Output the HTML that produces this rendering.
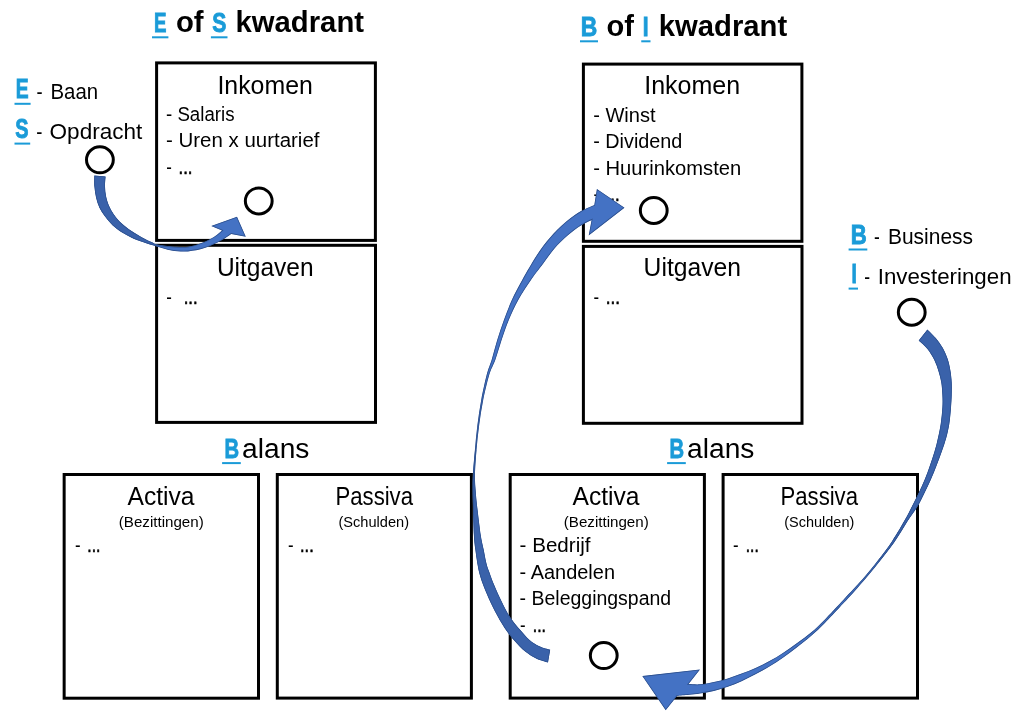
<!DOCTYPE html>
<html lang="nl">
<head>
<meta charset="utf-8">
<title>E of S kwadrant / B of I kwadrant</title>
<style>
html,body{margin:0;padding:0;background:#fff;}
body{width:1024px;height:721px;overflow:hidden;}
svg{display:block;will-change:transform;}
svg text{font-family:"Liberation Sans", sans-serif;}
</style>
</head>
<body>
<svg width="1024" height="721" viewBox="0 0 1024 721">
<rect width="1024" height="721" fill="#fff"/>
<rect x="156.60" y="62.90" width="218.80" height="177.50" fill="#fff" stroke="#000" stroke-width="3.0"/>
<rect x="156.60" y="245.30" width="218.90" height="177.10" fill="#fff" stroke="#000" stroke-width="3.0"/>
<rect x="583.40" y="64.10" width="218.50" height="177.20" fill="#fff" stroke="#000" stroke-width="3.0"/>
<rect x="583.40" y="246.40" width="218.60" height="176.90" fill="#fff" stroke="#000" stroke-width="3.0"/>
<rect x="64.15" y="474.50" width="194.35" height="223.70" fill="#fff" stroke="#000" stroke-width="3.0"/>
<rect x="277.30" y="474.50" width="194.10" height="223.60" fill="#fff" stroke="#000" stroke-width="3.0"/>
<rect x="510.20" y="474.50" width="194.20" height="223.60" fill="#fff" stroke="#000" stroke-width="3.0"/>
<rect x="723.10" y="474.50" width="194.40" height="223.60" fill="#fff" stroke="#000" stroke-width="3.0"/>
<text><tspan x="154.05" y="31.85" font-size="26.74" font-weight="bold" fill="#1A9BD8" stroke="#1A9BD8" stroke-width="0.9" textLength="12.50" lengthAdjust="spacingAndGlyphs">E</tspan> <tspan x="175.90" y="32.30" font-size="29.0" font-weight="bold" textLength="27.64" lengthAdjust="spacingAndGlyphs">of</tspan> <tspan x="212.15" y="31.85" font-size="26.74" font-weight="bold" fill="#1A9BD8" stroke="#1A9BD8" stroke-width="0.9" textLength="14.10" lengthAdjust="spacingAndGlyphs">S</tspan> <tspan x="235.60" y="32.30" font-size="29.0" font-weight="bold" textLength="128.40" lengthAdjust="spacingAndGlyphs">kwadrant</tspan></text>
<rect x="152.00" y="36.30" width="16.40" height="2" fill="#1A9BD8"/>
<rect x="210.90" y="36.30" width="16.60" height="2" fill="#1A9BD8"/>
<text><tspan x="580.75" y="35.80" font-size="26.74" font-weight="bold" fill="#1A9BD8" stroke="#1A9BD8" stroke-width="0.9" textLength="16.50" lengthAdjust="spacingAndGlyphs">B</tspan> <tspan x="606.50" y="36.25" font-size="29.0" font-weight="bold" textLength="27.44" lengthAdjust="spacingAndGlyphs">of</tspan> <tspan x="642.75" y="35.80" font-size="26.74" font-weight="bold" fill="#1A9BD8" stroke="#1A9BD8" stroke-width="0.9" textLength="5.80" lengthAdjust="spacingAndGlyphs">I</tspan> <tspan x="658.80" y="36.25" font-size="29.0" font-weight="bold" textLength="128.40" lengthAdjust="spacingAndGlyphs">kwadrant</tspan></text>
<rect x="580.00" y="40.30" width="18.00" height="2" fill="#1A9BD8"/>
<rect x="641.25" y="40.30" width="9.25" height="2" fill="#1A9BD8"/>
<text><tspan x="15.85" y="98.25" font-size="26.74" font-weight="bold" fill="#1A9BD8" stroke="#1A9BD8" stroke-width="0.9" textLength="12.90" lengthAdjust="spacingAndGlyphs">E</tspan> <tspan x="36.50" y="98.70" font-size="21.9" textLength="6.10" lengthAdjust="spacingAndGlyphs">-</tspan> <tspan x="50.50" y="98.70" font-size="21.9" textLength="47.61" lengthAdjust="spacingAndGlyphs">Baan</tspan></text>
<rect x="14.50" y="102.80" width="16.10" height="2" fill="#1A9BD8"/>
<text><tspan x="15.35" y="138.05" font-size="26.74" font-weight="bold" fill="#1A9BD8" stroke="#1A9BD8" stroke-width="0.9" textLength="13.30" lengthAdjust="spacingAndGlyphs">S</tspan> <tspan x="36.25" y="138.50" font-size="21.9" textLength="6.15" lengthAdjust="spacingAndGlyphs">-</tspan> <tspan x="49.60" y="138.50" font-size="21.9" textLength="92.71" lengthAdjust="spacingAndGlyphs">Opdracht</tspan></text>
<rect x="14.50" y="142.60" width="15.70" height="2" fill="#1A9BD8"/>
<text><tspan x="850.75" y="243.85" font-size="26.74" font-weight="bold" fill="#1A9BD8" stroke="#1A9BD8" stroke-width="0.9" textLength="16.00" lengthAdjust="spacingAndGlyphs">B</tspan> <tspan x="874.10" y="244.30" font-size="21.9" textLength="5.80" lengthAdjust="spacingAndGlyphs">-</tspan> <tspan x="888.00" y="244.30" font-size="21.9" textLength="84.99" lengthAdjust="spacingAndGlyphs">Business</tspan></text>
<rect x="848.60" y="248.50" width="18.70" height="2" fill="#1A9BD8"/>
<text><tspan x="851.55" y="283.35" font-size="26.74" font-weight="bold" fill="#1A9BD8" stroke="#1A9BD8" stroke-width="0.9" textLength="5.40" lengthAdjust="spacingAndGlyphs">I</tspan> <tspan x="864.25" y="283.80" font-size="21.9" textLength="5.85" lengthAdjust="spacingAndGlyphs">-</tspan> <tspan x="877.70" y="283.80" font-size="21.9" textLength="133.90" lengthAdjust="spacingAndGlyphs">Investeringen</tspan></text>
<rect x="848.60" y="287.60" width="9.40" height="2" fill="#1A9BD8"/>
<text><tspan x="217.40" y="93.50" font-size="25.2" textLength="95.41" lengthAdjust="spacingAndGlyphs">Inkomen</tspan></text>
<text><tspan x="166.00" y="121.00" font-size="19.4" textLength="68.49" lengthAdjust="spacingAndGlyphs">- Salaris</tspan></text>
<text><tspan x="166.00" y="147.00" font-size="19.4" textLength="153.45" lengthAdjust="spacingAndGlyphs">- Uren x uurtarief</tspan></text>
<text><tspan x="166.20" y="173.80" font-size="19.4" textLength="5.60" lengthAdjust="spacingAndGlyphs">-</tspan> <tspan x="178.50" y="173.50" font-size="19.4" stroke="#000" stroke-width="0.6" textLength="14.01" lengthAdjust="spacingAndGlyphs">...</tspan></text>
<text><tspan x="216.90" y="275.60" font-size="25.2" textLength="96.70" lengthAdjust="spacingAndGlyphs">Uitgaven</tspan></text>
<text><tspan x="166.30" y="303.80" font-size="19.4" textLength="5.60" lengthAdjust="spacingAndGlyphs">-</tspan> <tspan x="183.70" y="303.50" font-size="19.4" stroke="#000" stroke-width="0.6" textLength="14.01" lengthAdjust="spacingAndGlyphs">...</tspan></text>
<text><tspan x="644.20" y="94.30" font-size="25.2" textLength="95.91" lengthAdjust="spacingAndGlyphs">Inkomen</tspan></text>
<text><tspan x="593.20" y="122.00" font-size="19.4" textLength="62.40" lengthAdjust="spacingAndGlyphs">- Winst</tspan></text>
<text><tspan x="593.20" y="148.10" font-size="19.4" textLength="89.20" lengthAdjust="spacingAndGlyphs">- Dividend</tspan></text>
<text><tspan x="593.20" y="175.00" font-size="19.4" textLength="148.00" lengthAdjust="spacingAndGlyphs">- Huurinkomsten</tspan></text>
<text><tspan x="593.40" y="201.00" font-size="19.4" textLength="5.60" lengthAdjust="spacingAndGlyphs">-</tspan> <tspan x="605.70" y="200.70" font-size="19.4" stroke="#000" stroke-width="0.6" textLength="14.01" lengthAdjust="spacingAndGlyphs">...</tspan></text>
<text><tspan x="643.60" y="276.00" font-size="25.2" textLength="97.39" lengthAdjust="spacingAndGlyphs">Uitgaven</tspan></text>
<text><tspan x="593.40" y="304.40" font-size="19.4" textLength="5.60" lengthAdjust="spacingAndGlyphs">-</tspan> <tspan x="605.70" y="304.10" font-size="19.4" stroke="#000" stroke-width="0.6" textLength="14.31" lengthAdjust="spacingAndGlyphs">...</tspan></text>
<text><tspan x="224.45" y="457.85" font-size="26.74" font-weight="bold" fill="#1A9BD8" stroke="#1A9BD8" stroke-width="0.9" textLength="14.60" lengthAdjust="spacingAndGlyphs">B</tspan><tspan x="242.10" y="458.30" font-size="27.0" textLength="67.29" lengthAdjust="spacingAndGlyphs">alans</tspan></text>
<rect x="222.10" y="462.10" width="18.70" height="2" fill="#1A9BD8"/>
<text><tspan x="669.45" y="457.85" font-size="26.74" font-weight="bold" fill="#1A9BD8" stroke="#1A9BD8" stroke-width="0.9" textLength="14.60" lengthAdjust="spacingAndGlyphs">B</tspan><tspan x="687.10" y="458.30" font-size="27.0" textLength="67.29" lengthAdjust="spacingAndGlyphs">alans</tspan></text>
<rect x="667.10" y="462.10" width="18.70" height="2" fill="#1A9BD8"/>
<text><tspan x="127.50" y="504.50" font-size="25.2" textLength="66.98" lengthAdjust="spacingAndGlyphs">Activa</tspan></text>
<text><tspan x="118.75" y="527.00" font-size="14.6" textLength="85.00" lengthAdjust="spacingAndGlyphs">(Bezittingen)</tspan></text>
<text><tspan x="75.00" y="552.20" font-size="19.4" textLength="5.60" lengthAdjust="spacingAndGlyphs">-</tspan> <tspan x="87.30" y="551.90" font-size="19.4" stroke="#000" stroke-width="0.6" textLength="13.16" lengthAdjust="spacingAndGlyphs">...</tspan></text>
<text><tspan x="335.50" y="504.50" font-size="25.2" textLength="77.49" lengthAdjust="spacingAndGlyphs">Passiva</tspan></text>
<text><tspan x="338.50" y="527.00" font-size="14.6" textLength="70.50" lengthAdjust="spacingAndGlyphs">(Schulden)</tspan></text>
<text><tspan x="288.00" y="552.20" font-size="19.4" textLength="5.60" lengthAdjust="spacingAndGlyphs">-</tspan> <tspan x="300.05" y="551.90" font-size="19.4" stroke="#000" stroke-width="0.6" textLength="13.66" lengthAdjust="spacingAndGlyphs">...</tspan></text>
<text><tspan x="572.50" y="504.50" font-size="25.2" textLength="66.98" lengthAdjust="spacingAndGlyphs">Activa</tspan></text>
<text><tspan x="563.75" y="527.00" font-size="14.6" textLength="85.00" lengthAdjust="spacingAndGlyphs">(Bezittingen)</tspan></text>
<text><tspan x="519.60" y="552.00" font-size="19.4" textLength="70.95" lengthAdjust="spacingAndGlyphs">- Bedrijf</tspan></text>
<text><tspan x="519.60" y="578.50" font-size="19.4" textLength="95.40" lengthAdjust="spacingAndGlyphs">- Aandelen</tspan></text>
<text><tspan x="519.60" y="605.00" font-size="19.4" textLength="151.60" lengthAdjust="spacingAndGlyphs">- Beleggingspand</tspan></text>
<text><tspan x="520.00" y="632.00" font-size="19.4" textLength="5.60" lengthAdjust="spacingAndGlyphs">-</tspan> <tspan x="532.80" y="631.70" font-size="19.4" stroke="#000" stroke-width="0.6" textLength="13.16" lengthAdjust="spacingAndGlyphs">...</tspan></text>
<text><tspan x="780.50" y="504.50" font-size="25.2" textLength="77.49" lengthAdjust="spacingAndGlyphs">Passiva</tspan></text>
<text><tspan x="784.25" y="527.00" font-size="14.6" textLength="70.00" lengthAdjust="spacingAndGlyphs">(Schulden)</tspan></text>
<text><tspan x="733.00" y="552.20" font-size="19.4" textLength="5.60" lengthAdjust="spacingAndGlyphs">-</tspan> <tspan x="745.80" y="551.90" font-size="19.4" stroke="#000" stroke-width="0.6" textLength="12.91" lengthAdjust="spacingAndGlyphs">...</tspan></text>
<ellipse cx="99.9" cy="159.8" rx="13.40" ry="13.00" fill="#fff" stroke="#000" stroke-width="3"/>
<ellipse cx="258.75" cy="200.9" rx="13.40" ry="13.00" fill="#fff" stroke="#000" stroke-width="3"/>
<ellipse cx="653.75" cy="210.4" rx="13.40" ry="13.00" fill="#fff" stroke="#000" stroke-width="3"/>
<ellipse cx="911.75" cy="312.25" rx="13.40" ry="13.00" fill="#fff" stroke="#000" stroke-width="3"/>
<ellipse cx="603.75" cy="655.6" rx="13.40" ry="13.00" fill="#fff" stroke="#000" stroke-width="3"/>
<clipPath id="arrowclip1"><path d="M105.6,176.4 C105.5,178.1 104.9,183.2 105.0,186.6 C105.1,190.0 105.4,193.4 106.1,196.6 C106.8,199.8 107.6,202.5 108.9,205.5 C110.2,208.5 111.8,211.4 113.9,214.4 C116.0,217.4 118.6,220.5 121.6,223.3 C124.5,226.1 128.1,228.6 131.6,231.0 C135.1,233.4 139.4,235.8 142.7,237.7 C146.0,239.5 149.1,240.9 151.6,242.1 C154.1,243.2 154.2,243.9 157.5,244.6 C160.8,245.3 166.3,246.1 171.4,246.4 C176.5,246.8 183.0,247.2 188.0,246.7 C193.0,246.1 196.9,244.8 201.3,243.1 C205.7,241.4 211.2,238.5 214.6,236.4 C218.0,234.3 220.8,231.6 222.0,230.6 L211.2,226.1 L237.0,216.8 L245.8,236.8 L231.2,233.9 C229.5,235.0 225.6,238.2 221.2,240.6 C216.8,243.0 210.1,246.3 204.6,248.1 C199.1,249.9 193.5,251.0 188.0,251.4 C182.5,251.8 176.5,251.3 171.4,250.5 C166.3,249.7 162.3,248.2 157.5,246.8 C152.7,245.4 147.0,243.6 142.7,242.1 C138.4,240.6 135.1,239.3 131.6,237.7 C128.1,236.0 124.8,234.2 121.6,232.2 C118.4,230.2 115.5,228.1 112.7,225.5 C109.9,222.9 107.2,219.6 105.0,216.6 C102.8,213.6 100.9,210.8 99.4,207.7 C97.9,204.5 96.9,201.2 96.1,197.7 C95.3,194.2 94.7,190.3 94.4,186.6 C94.1,182.9 94.3,177.3 94.3,175.4 Z"/></clipPath>
<g clip-path="url(#arrowclip1)"><path d="M105.6,176.4 C105.5,178.1 104.9,183.2 105.0,186.6 C105.1,190.0 105.4,193.4 106.1,196.6 C106.8,199.8 107.6,202.5 108.9,205.5 C110.2,208.5 111.8,211.4 113.9,214.4 C116.0,217.4 118.6,220.5 121.6,223.3 C124.5,226.1 128.1,228.6 131.6,231.0 C135.1,233.4 139.4,235.8 142.7,237.7 C146.0,239.5 149.1,240.9 151.6,242.1 C154.1,243.2 154.2,243.9 157.5,244.6 C160.8,245.3 166.3,246.1 171.4,246.4 C176.5,246.8 183.0,247.2 188.0,246.7 C193.0,246.1 196.9,244.8 201.3,243.1 C205.7,241.4 211.2,238.5 214.6,236.4 C218.0,234.3 220.8,231.6 222.0,230.6 L211.2,226.1 L237.0,216.8 L245.8,236.8 L231.2,233.9 C229.5,235.0 225.6,238.2 221.2,240.6 C216.8,243.0 210.1,246.3 204.6,248.1 C199.1,249.9 193.5,251.0 188.0,251.4 C182.5,251.8 176.5,251.3 171.4,250.5 C166.3,249.7 162.3,248.2 157.5,246.8 C152.7,245.4 147.0,243.6 142.7,242.1 C138.4,240.6 135.1,239.3 131.6,237.7 C128.1,236.0 124.8,234.2 121.6,232.2 C118.4,230.2 115.5,228.1 112.7,225.5 C109.9,222.9 107.2,219.6 105.0,216.6 C102.8,213.6 100.9,210.8 99.4,207.7 C97.9,204.5 96.9,201.2 96.1,197.7 C95.3,194.2 94.7,190.3 94.4,186.6 C94.1,182.9 94.3,177.3 94.3,175.4 Z" fill="#4472C4"/><path d="M105.6,176.4 C105.5,178.1 104.9,183.2 105.0,186.6 C105.1,190.0 105.4,193.4 106.1,196.6 C106.8,199.8 107.6,202.5 108.9,205.5 C110.2,208.5 111.8,211.4 113.9,214.4 C116.0,217.4 118.6,220.5 121.6,223.3 C124.5,226.1 128.1,228.6 131.6,231.0 C135.1,233.4 139.4,235.8 142.7,237.7 C146.0,239.5 149.1,240.9 151.6,242.1 C154.1,243.2 154.2,243.9 157.5,244.6 L157.5,246.8 C152.7,245.4 147.0,243.6 142.7,242.1 C138.4,240.6 135.1,239.3 131.6,237.7 C128.1,236.0 124.8,234.2 121.6,232.2 C118.4,230.2 115.5,228.1 112.7,225.5 C109.9,222.9 107.2,219.6 105.0,216.6 C102.8,213.6 100.9,210.8 99.4,207.7 C97.9,204.5 96.9,201.2 96.1,197.7 C95.3,194.2 94.7,190.3 94.4,186.6 C94.1,182.9 94.3,177.3 94.3,175.4 Z" fill="#3A62AA"/><path d="M105.6,176.4 C105.5,178.1 104.9,183.2 105.0,186.6 C105.1,190.0 105.4,193.4 106.1,196.6 C106.8,199.8 107.6,202.5 108.9,205.5 C110.2,208.5 111.8,211.4 113.9,214.4 C116.0,217.4 118.6,220.5 121.6,223.3 C124.5,226.1 128.1,228.6 131.6,231.0 C135.1,233.4 139.4,235.8 142.7,237.7 C146.0,239.5 149.1,240.9 151.6,242.1 C154.1,243.2 154.2,243.9 157.5,244.6 C160.8,245.3 166.3,246.1 171.4,246.4 C176.5,246.8 183.0,247.2 188.0,246.7 C193.0,246.1 196.9,244.8 201.3,243.1 C205.7,241.4 211.2,238.5 214.6,236.4 C218.0,234.3 220.8,231.6 222.0,230.6 L211.2,226.1 L237.0,216.8 L245.8,236.8 L231.2,233.9 C229.5,235.0 225.6,238.2 221.2,240.6 C216.8,243.0 210.1,246.3 204.6,248.1 C199.1,249.9 193.5,251.0 188.0,251.4 C182.5,251.8 176.5,251.3 171.4,250.5 C166.3,249.7 162.3,248.2 157.5,246.8 C152.7,245.4 147.0,243.6 142.7,242.1 C138.4,240.6 135.1,239.3 131.6,237.7 C128.1,236.0 124.8,234.2 121.6,232.2 C118.4,230.2 115.5,228.1 112.7,225.5 C109.9,222.9 107.2,219.6 105.0,216.6 C102.8,213.6 100.9,210.8 99.4,207.7 C97.9,204.5 96.9,201.2 96.1,197.7 C95.3,194.2 94.7,190.3 94.4,186.6 C94.1,182.9 94.3,177.3 94.3,175.4 Z" fill="none" stroke="#2F528F" stroke-width="1.6" stroke-linejoin="miter"/></g>
<clipPath id="arrowclip2"><path d="M548.0,662.6 C546.1,662.0 540.4,660.6 536.6,658.8 C532.9,657.0 529.2,654.8 525.5,651.8 C521.8,648.8 517.9,644.6 514.4,640.7 C510.9,636.8 507.9,633.1 504.7,628.3 C501.5,623.4 498.0,617.4 495.0,611.6 C492.0,605.8 489.0,599.4 486.6,593.6 C484.2,587.8 481.9,582.0 480.4,576.9 C478.8,571.8 478.1,567.8 477.3,563.2 C476.5,558.6 475.9,553.9 475.3,549.3 C474.7,544.7 474.3,542.4 473.9,535.5 C473.5,528.6 473.2,515.3 473.0,507.7 C472.8,500.1 472.6,495.4 472.6,490.0 C472.6,484.6 472.5,481.7 472.9,475.0 C473.3,468.3 474.1,458.3 474.9,450.0 C475.6,441.7 476.3,433.3 477.4,425.0 C478.4,416.7 479.7,408.3 481.2,400.0 C482.7,391.7 484.9,381.7 486.6,375.0 C488.3,368.3 489.8,365.8 491.6,360.0 C493.4,354.2 495.1,346.7 497.2,340.0 C499.2,333.3 501.5,326.7 503.9,320.0 C506.3,313.3 508.8,306.7 511.8,300.0 C514.9,293.3 518.1,287.4 522.2,280.0 C526.3,272.6 532.0,262.6 536.6,255.5 C541.2,248.4 545.1,243.2 549.9,237.7 C554.7,232.1 560.2,226.6 565.4,222.2 C570.6,217.8 576.2,214.0 581.0,211.1 C585.8,208.2 592.1,205.9 594.3,204.9 L596.9,188.9 L624.5,207.7 L588.7,235.5 L591.6,219.9 C589.8,220.8 585.0,222.9 581.0,225.5 C577.0,228.1 572.1,231.6 567.6,235.5 C563.1,239.4 558.7,243.6 554.3,248.8 C549.9,254.0 544.9,261.4 541.0,266.6 C537.1,271.8 534.8,274.4 531.0,280.0 C527.2,285.6 522.0,293.3 518.3,300.0 C514.6,306.7 511.6,313.3 508.8,320.0 C506.0,326.7 503.9,333.3 501.6,340.0 C499.4,346.7 497.4,354.2 495.3,360.0 C493.2,365.8 491.2,368.3 489.2,375.0 C487.2,381.7 484.9,391.7 483.2,400.0 C481.5,408.3 480.3,416.7 479.2,425.0 C478.1,433.3 477.2,441.7 476.5,450.0 C475.8,458.3 475.1,468.3 475.0,475.0 C474.9,481.7 475.2,484.6 475.6,490.0 C476.0,495.4 476.4,500.1 477.3,507.7 C478.2,515.3 479.8,528.6 480.8,535.5 C481.9,542.4 482.7,544.7 483.6,549.3 C484.5,553.9 485.4,559.4 486.4,563.2 C487.3,567.0 488.0,568.3 489.3,572.0 C490.6,575.7 492.2,580.3 494.3,585.3 C496.4,590.3 499.2,596.6 501.9,601.9 C504.5,607.2 507.2,612.6 510.2,617.2 C513.2,621.8 516.7,625.8 519.9,629.6 C523.1,633.4 526.4,637.2 529.6,640.0 C532.8,642.8 535.9,644.7 539.3,646.3 C542.7,647.9 548.4,649.2 550.2,649.8 Z"/></clipPath>
<g clip-path="url(#arrowclip2)"><path d="M548.0,662.6 C546.1,662.0 540.4,660.6 536.6,658.8 C532.9,657.0 529.2,654.8 525.5,651.8 C521.8,648.8 517.9,644.6 514.4,640.7 C510.9,636.8 507.9,633.1 504.7,628.3 C501.5,623.4 498.0,617.4 495.0,611.6 C492.0,605.8 489.0,599.4 486.6,593.6 C484.2,587.8 481.9,582.0 480.4,576.9 C478.8,571.8 478.1,567.8 477.3,563.2 C476.5,558.6 475.9,553.9 475.3,549.3 C474.7,544.7 474.3,542.4 473.9,535.5 C473.5,528.6 473.2,515.3 473.0,507.7 C472.8,500.1 472.6,495.4 472.6,490.0 C472.6,484.6 472.5,481.7 472.9,475.0 C473.3,468.3 474.1,458.3 474.9,450.0 C475.6,441.7 476.3,433.3 477.4,425.0 C478.4,416.7 479.7,408.3 481.2,400.0 C482.7,391.7 484.9,381.7 486.6,375.0 C488.3,368.3 489.8,365.8 491.6,360.0 C493.4,354.2 495.1,346.7 497.2,340.0 C499.2,333.3 501.5,326.7 503.9,320.0 C506.3,313.3 508.8,306.7 511.8,300.0 C514.9,293.3 518.1,287.4 522.2,280.0 C526.3,272.6 532.0,262.6 536.6,255.5 C541.2,248.4 545.1,243.2 549.9,237.7 C554.7,232.1 560.2,226.6 565.4,222.2 C570.6,217.8 576.2,214.0 581.0,211.1 C585.8,208.2 592.1,205.9 594.3,204.9 L596.9,188.9 L624.5,207.7 L588.7,235.5 L591.6,219.9 C589.8,220.8 585.0,222.9 581.0,225.5 C577.0,228.1 572.1,231.6 567.6,235.5 C563.1,239.4 558.7,243.6 554.3,248.8 C549.9,254.0 544.9,261.4 541.0,266.6 C537.1,271.8 534.8,274.4 531.0,280.0 C527.2,285.6 522.0,293.3 518.3,300.0 C514.6,306.7 511.6,313.3 508.8,320.0 C506.0,326.7 503.9,333.3 501.6,340.0 C499.4,346.7 497.4,354.2 495.3,360.0 C493.2,365.8 491.2,368.3 489.2,375.0 C487.2,381.7 484.9,391.7 483.2,400.0 C481.5,408.3 480.3,416.7 479.2,425.0 C478.1,433.3 477.2,441.7 476.5,450.0 C475.8,458.3 475.1,468.3 475.0,475.0 C474.9,481.7 475.2,484.6 475.6,490.0 C476.0,495.4 476.4,500.1 477.3,507.7 C478.2,515.3 479.8,528.6 480.8,535.5 C481.9,542.4 482.7,544.7 483.6,549.3 C484.5,553.9 485.4,559.4 486.4,563.2 C487.3,567.0 488.0,568.3 489.3,572.0 C490.6,575.7 492.2,580.3 494.3,585.3 C496.4,590.3 499.2,596.6 501.9,601.9 C504.5,607.2 507.2,612.6 510.2,617.2 C513.2,621.8 516.7,625.8 519.9,629.6 C523.1,633.4 526.4,637.2 529.6,640.0 C532.8,642.8 535.9,644.7 539.3,646.3 C542.7,647.9 548.4,649.2 550.2,649.8 Z" fill="#4472C4"/><path d="M548.0,662.6 C546.1,662.0 540.4,660.6 536.6,658.8 C532.9,657.0 529.2,654.8 525.5,651.8 C521.8,648.8 517.9,644.6 514.4,640.7 C510.9,636.8 507.9,633.1 504.7,628.3 C501.5,623.4 498.0,617.4 495.0,611.6 C492.0,605.8 489.0,599.4 486.6,593.6 C484.2,587.8 481.9,582.0 480.4,576.9 C478.8,571.8 478.1,567.8 477.3,563.2 C476.5,558.6 475.9,553.9 475.3,549.3 C474.7,544.7 474.3,542.4 473.9,535.5 C473.5,528.6 473.2,515.3 473.0,507.7 C472.8,500.1 472.6,495.4 472.6,490.0 C472.6,484.6 472.5,481.7 472.9,475.0 C473.3,468.3 474.1,458.3 474.9,450.0 L476.5,450.0 C475.8,458.3 475.1,468.3 475.0,475.0 C474.9,481.7 475.2,484.6 475.6,490.0 C476.0,495.4 476.4,500.1 477.3,507.7 C478.2,515.3 479.8,528.6 480.8,535.5 C481.9,542.4 482.7,544.7 483.6,549.3 C484.5,553.9 485.4,559.4 486.4,563.2 C487.3,567.0 488.0,568.3 489.3,572.0 C490.6,575.7 492.2,580.3 494.3,585.3 C496.4,590.3 499.2,596.6 501.9,601.9 C504.5,607.2 507.2,612.6 510.2,617.2 C513.2,621.8 516.7,625.8 519.9,629.6 C523.1,633.4 526.4,637.2 529.6,640.0 C532.8,642.8 535.9,644.7 539.3,646.3 C542.7,647.9 548.4,649.2 550.2,649.8 Z" fill="#3A62AA"/><path d="M548.0,662.6 C546.1,662.0 540.4,660.6 536.6,658.8 C532.9,657.0 529.2,654.8 525.5,651.8 C521.8,648.8 517.9,644.6 514.4,640.7 C510.9,636.8 507.9,633.1 504.7,628.3 C501.5,623.4 498.0,617.4 495.0,611.6 C492.0,605.8 489.0,599.4 486.6,593.6 C484.2,587.8 481.9,582.0 480.4,576.9 C478.8,571.8 478.1,567.8 477.3,563.2 C476.5,558.6 475.9,553.9 475.3,549.3 C474.7,544.7 474.3,542.4 473.9,535.5 C473.5,528.6 473.2,515.3 473.0,507.7 C472.8,500.1 472.6,495.4 472.6,490.0 C472.6,484.6 472.5,481.7 472.9,475.0 C473.3,468.3 474.1,458.3 474.9,450.0 C475.6,441.7 476.3,433.3 477.4,425.0 C478.4,416.7 479.7,408.3 481.2,400.0 C482.7,391.7 484.9,381.7 486.6,375.0 C488.3,368.3 489.8,365.8 491.6,360.0 C493.4,354.2 495.1,346.7 497.2,340.0 C499.2,333.3 501.5,326.7 503.9,320.0 C506.3,313.3 508.8,306.7 511.8,300.0 C514.9,293.3 518.1,287.4 522.2,280.0 C526.3,272.6 532.0,262.6 536.6,255.5 C541.2,248.4 545.1,243.2 549.9,237.7 C554.7,232.1 560.2,226.6 565.4,222.2 C570.6,217.8 576.2,214.0 581.0,211.1 C585.8,208.2 592.1,205.9 594.3,204.9 L596.9,188.9 L624.5,207.7 L588.7,235.5 L591.6,219.9 C589.8,220.8 585.0,222.9 581.0,225.5 C577.0,228.1 572.1,231.6 567.6,235.5 C563.1,239.4 558.7,243.6 554.3,248.8 C549.9,254.0 544.9,261.4 541.0,266.6 C537.1,271.8 534.8,274.4 531.0,280.0 C527.2,285.6 522.0,293.3 518.3,300.0 C514.6,306.7 511.6,313.3 508.8,320.0 C506.0,326.7 503.9,333.3 501.6,340.0 C499.4,346.7 497.4,354.2 495.3,360.0 C493.2,365.8 491.2,368.3 489.2,375.0 C487.2,381.7 484.9,391.7 483.2,400.0 C481.5,408.3 480.3,416.7 479.2,425.0 C478.1,433.3 477.2,441.7 476.5,450.0 C475.8,458.3 475.1,468.3 475.0,475.0 C474.9,481.7 475.2,484.6 475.6,490.0 C476.0,495.4 476.4,500.1 477.3,507.7 C478.2,515.3 479.8,528.6 480.8,535.5 C481.9,542.4 482.7,544.7 483.6,549.3 C484.5,553.9 485.4,559.4 486.4,563.2 C487.3,567.0 488.0,568.3 489.3,572.0 C490.6,575.7 492.2,580.3 494.3,585.3 C496.4,590.3 499.2,596.6 501.9,601.9 C504.5,607.2 507.2,612.6 510.2,617.2 C513.2,621.8 516.7,625.8 519.9,629.6 C523.1,633.4 526.4,637.2 529.6,640.0 C532.8,642.8 535.9,644.7 539.3,646.3 C542.7,647.9 548.4,649.2 550.2,649.8 Z" fill="none" stroke="#2F528F" stroke-width="1.6" stroke-linejoin="miter"/></g>
<clipPath id="arrowclip3"><path d="M927.4,329.4 C928.8,330.8 933.2,334.9 935.8,338.0 C938.3,341.1 940.7,344.2 942.7,347.7 C944.7,351.2 946.3,355.1 947.6,358.8 C948.9,362.5 949.6,366.0 950.3,369.9 C951.0,373.8 951.5,378.2 951.7,382.4 C951.9,386.6 951.8,390.7 951.7,394.9 C951.6,399.1 951.4,402.6 951.0,407.4 C950.6,412.2 950.1,418.8 949.3,423.9 C948.5,428.9 947.5,433.1 946.3,437.7 C945.0,442.3 943.4,447.0 941.8,451.6 C940.2,456.2 938.4,460.9 936.6,465.5 C934.8,470.1 933.0,474.7 931.0,479.3 C929.0,483.9 926.7,488.6 924.4,493.2 C922.1,497.8 920.0,502.5 917.2,507.1 C914.4,511.7 911.5,515.0 907.7,520.9 C903.9,526.8 899.0,535.5 894.2,542.4 C889.4,549.2 884.0,555.8 879.0,562.2 C874.0,568.6 869.2,574.4 864.0,580.5 C858.8,586.6 851.5,594.7 847.5,599.1 C843.5,603.5 843.8,602.9 840.0,606.9 C836.2,610.9 829.7,618.0 824.9,622.9 C820.1,627.8 815.6,632.0 811.0,636.1 C806.4,640.2 801.7,643.6 797.1,647.2 C792.5,650.8 787.9,654.4 783.3,657.6 C778.7,660.8 774.0,663.8 769.4,666.6 C764.8,669.4 760.1,671.8 755.5,674.2 C750.9,676.6 746.2,679.1 741.6,681.2 C737.0,683.3 732.4,685.1 727.8,686.7 C723.2,688.3 718.5,689.8 713.9,690.9 C709.3,692.0 704.1,692.9 700.0,693.5 C695.9,694.1 692.9,694.4 689.1,694.8 C685.3,695.2 679.3,695.6 677.3,695.8 L665.7,710.3 L642.3,676.1 L700.0,669.5 L688.6,684.0 C690.5,684.0 695.8,684.6 700.0,684.3 C704.2,683.9 709.3,682.9 713.9,681.9 C718.5,680.9 723.2,679.8 727.8,678.4 C732.4,677.0 737.0,675.2 741.6,673.5 C746.2,671.8 750.9,670.1 755.5,668.0 C760.1,665.9 764.8,663.6 769.4,661.1 C774.0,658.6 778.7,655.7 783.3,652.7 C787.9,649.7 792.5,646.4 797.1,643.0 C801.7,639.6 806.4,636.5 811.0,632.6 C815.6,628.7 820.1,624.2 824.9,619.4 C829.7,614.5 836.5,607.2 840.0,603.5 C843.5,599.8 842.0,601.3 845.7,597.3 C849.4,593.3 857.1,585.3 862.4,579.3 C867.7,573.2 872.4,567.4 877.4,561.0 C882.4,554.6 887.6,547.8 892.2,540.9 C896.9,533.9 902.1,524.7 905.3,519.1 C908.5,513.5 909.4,511.4 911.6,507.1 C913.8,502.8 916.3,497.8 918.5,493.2 C920.7,488.6 922.9,483.9 924.8,479.3 C926.7,474.7 928.3,470.1 929.9,465.5 C931.5,460.9 933.1,456.2 934.5,451.6 C935.9,447.0 937.0,442.3 938.0,437.7 C939.0,433.1 940.0,428.9 940.7,423.9 C941.4,418.8 942.1,412.2 942.4,407.4 C942.7,402.6 942.6,399.1 942.4,394.9 C942.2,390.7 941.9,386.3 941.3,382.4 C940.6,378.5 939.6,375.0 938.5,371.3 C937.4,367.6 936.2,363.9 934.4,360.2 C932.5,356.5 930.0,352.4 927.4,349.1 C924.8,345.8 920.2,341.9 918.7,340.5 Z"/></clipPath>
<g clip-path="url(#arrowclip3)"><path d="M927.4,329.4 C928.8,330.8 933.2,334.9 935.8,338.0 C938.3,341.1 940.7,344.2 942.7,347.7 C944.7,351.2 946.3,355.1 947.6,358.8 C948.9,362.5 949.6,366.0 950.3,369.9 C951.0,373.8 951.5,378.2 951.7,382.4 C951.9,386.6 951.8,390.7 951.7,394.9 C951.6,399.1 951.4,402.6 951.0,407.4 C950.6,412.2 950.1,418.8 949.3,423.9 C948.5,428.9 947.5,433.1 946.3,437.7 C945.0,442.3 943.4,447.0 941.8,451.6 C940.2,456.2 938.4,460.9 936.6,465.5 C934.8,470.1 933.0,474.7 931.0,479.3 C929.0,483.9 926.7,488.6 924.4,493.2 C922.1,497.8 920.0,502.5 917.2,507.1 C914.4,511.7 911.5,515.0 907.7,520.9 C903.9,526.8 899.0,535.5 894.2,542.4 C889.4,549.2 884.0,555.8 879.0,562.2 C874.0,568.6 869.2,574.4 864.0,580.5 C858.8,586.6 851.5,594.7 847.5,599.1 C843.5,603.5 843.8,602.9 840.0,606.9 C836.2,610.9 829.7,618.0 824.9,622.9 C820.1,627.8 815.6,632.0 811.0,636.1 C806.4,640.2 801.7,643.6 797.1,647.2 C792.5,650.8 787.9,654.4 783.3,657.6 C778.7,660.8 774.0,663.8 769.4,666.6 C764.8,669.4 760.1,671.8 755.5,674.2 C750.9,676.6 746.2,679.1 741.6,681.2 C737.0,683.3 732.4,685.1 727.8,686.7 C723.2,688.3 718.5,689.8 713.9,690.9 C709.3,692.0 704.1,692.9 700.0,693.5 C695.9,694.1 692.9,694.4 689.1,694.8 C685.3,695.2 679.3,695.6 677.3,695.8 L665.7,710.3 L642.3,676.1 L700.0,669.5 L688.6,684.0 C690.5,684.0 695.8,684.6 700.0,684.3 C704.2,683.9 709.3,682.9 713.9,681.9 C718.5,680.9 723.2,679.8 727.8,678.4 C732.4,677.0 737.0,675.2 741.6,673.5 C746.2,671.8 750.9,670.1 755.5,668.0 C760.1,665.9 764.8,663.6 769.4,661.1 C774.0,658.6 778.7,655.7 783.3,652.7 C787.9,649.7 792.5,646.4 797.1,643.0 C801.7,639.6 806.4,636.5 811.0,632.6 C815.6,628.7 820.1,624.2 824.9,619.4 C829.7,614.5 836.5,607.2 840.0,603.5 C843.5,599.8 842.0,601.3 845.7,597.3 C849.4,593.3 857.1,585.3 862.4,579.3 C867.7,573.2 872.4,567.4 877.4,561.0 C882.4,554.6 887.6,547.8 892.2,540.9 C896.9,533.9 902.1,524.7 905.3,519.1 C908.5,513.5 909.4,511.4 911.6,507.1 C913.8,502.8 916.3,497.8 918.5,493.2 C920.7,488.6 922.9,483.9 924.8,479.3 C926.7,474.7 928.3,470.1 929.9,465.5 C931.5,460.9 933.1,456.2 934.5,451.6 C935.9,447.0 937.0,442.3 938.0,437.7 C939.0,433.1 940.0,428.9 940.7,423.9 C941.4,418.8 942.1,412.2 942.4,407.4 C942.7,402.6 942.6,399.1 942.4,394.9 C942.2,390.7 941.9,386.3 941.3,382.4 C940.6,378.5 939.6,375.0 938.5,371.3 C937.4,367.6 936.2,363.9 934.4,360.2 C932.5,356.5 930.0,352.4 927.4,349.1 C924.8,345.8 920.2,341.9 918.7,340.5 Z" fill="#4472C4"/><path d="M927.4,329.4 C928.8,330.8 933.2,334.9 935.8,338.0 C938.3,341.1 940.7,344.2 942.7,347.7 C944.7,351.2 946.3,355.1 947.6,358.8 C948.9,362.5 949.6,366.0 950.3,369.9 C951.0,373.8 951.5,378.2 951.7,382.4 C951.9,386.6 951.8,390.7 951.7,394.9 C951.6,399.1 951.4,402.6 951.0,407.4 C950.6,412.2 950.1,418.8 949.3,423.9 C948.5,428.9 947.5,433.1 946.3,437.7 C945.0,442.3 943.4,447.0 941.8,451.6 C940.2,456.2 938.4,460.9 936.6,465.5 C934.8,470.1 933.0,474.7 931.0,479.3 C929.0,483.9 926.7,488.6 924.4,493.2 C922.1,497.8 920.0,502.5 917.2,507.1 C914.4,511.7 911.5,515.0 907.7,520.9 C903.9,526.8 899.0,535.5 894.2,542.4 C889.4,549.2 884.0,555.8 879.0,562.2 L877.4,561.0 C882.4,554.6 887.6,547.8 892.2,540.9 C896.9,533.9 902.1,524.7 905.3,519.1 C908.5,513.5 909.4,511.4 911.6,507.1 C913.8,502.8 916.3,497.8 918.5,493.2 C920.7,488.6 922.9,483.9 924.8,479.3 C926.7,474.7 928.3,470.1 929.9,465.5 C931.5,460.9 933.1,456.2 934.5,451.6 C935.9,447.0 937.0,442.3 938.0,437.7 C939.0,433.1 940.0,428.9 940.7,423.9 C941.4,418.8 942.1,412.2 942.4,407.4 C942.7,402.6 942.6,399.1 942.4,394.9 C942.2,390.7 941.9,386.3 941.3,382.4 C940.6,378.5 939.6,375.0 938.5,371.3 C937.4,367.6 936.2,363.9 934.4,360.2 C932.5,356.5 930.0,352.4 927.4,349.1 C924.8,345.8 920.2,341.9 918.7,340.5 Z" fill="#3A62AA"/><path d="M927.4,329.4 C928.8,330.8 933.2,334.9 935.8,338.0 C938.3,341.1 940.7,344.2 942.7,347.7 C944.7,351.2 946.3,355.1 947.6,358.8 C948.9,362.5 949.6,366.0 950.3,369.9 C951.0,373.8 951.5,378.2 951.7,382.4 C951.9,386.6 951.8,390.7 951.7,394.9 C951.6,399.1 951.4,402.6 951.0,407.4 C950.6,412.2 950.1,418.8 949.3,423.9 C948.5,428.9 947.5,433.1 946.3,437.7 C945.0,442.3 943.4,447.0 941.8,451.6 C940.2,456.2 938.4,460.9 936.6,465.5 C934.8,470.1 933.0,474.7 931.0,479.3 C929.0,483.9 926.7,488.6 924.4,493.2 C922.1,497.8 920.0,502.5 917.2,507.1 C914.4,511.7 911.5,515.0 907.7,520.9 C903.9,526.8 899.0,535.5 894.2,542.4 C889.4,549.2 884.0,555.8 879.0,562.2 C874.0,568.6 869.2,574.4 864.0,580.5 C858.8,586.6 851.5,594.7 847.5,599.1 C843.5,603.5 843.8,602.9 840.0,606.9 C836.2,610.9 829.7,618.0 824.9,622.9 C820.1,627.8 815.6,632.0 811.0,636.1 C806.4,640.2 801.7,643.6 797.1,647.2 C792.5,650.8 787.9,654.4 783.3,657.6 C778.7,660.8 774.0,663.8 769.4,666.6 C764.8,669.4 760.1,671.8 755.5,674.2 C750.9,676.6 746.2,679.1 741.6,681.2 C737.0,683.3 732.4,685.1 727.8,686.7 C723.2,688.3 718.5,689.8 713.9,690.9 C709.3,692.0 704.1,692.9 700.0,693.5 C695.9,694.1 692.9,694.4 689.1,694.8 C685.3,695.2 679.3,695.6 677.3,695.8 L665.7,710.3 L642.3,676.1 L700.0,669.5 L688.6,684.0 C690.5,684.0 695.8,684.6 700.0,684.3 C704.2,683.9 709.3,682.9 713.9,681.9 C718.5,680.9 723.2,679.8 727.8,678.4 C732.4,677.0 737.0,675.2 741.6,673.5 C746.2,671.8 750.9,670.1 755.5,668.0 C760.1,665.9 764.8,663.6 769.4,661.1 C774.0,658.6 778.7,655.7 783.3,652.7 C787.9,649.7 792.5,646.4 797.1,643.0 C801.7,639.6 806.4,636.5 811.0,632.6 C815.6,628.7 820.1,624.2 824.9,619.4 C829.7,614.5 836.5,607.2 840.0,603.5 C843.5,599.8 842.0,601.3 845.7,597.3 C849.4,593.3 857.1,585.3 862.4,579.3 C867.7,573.2 872.4,567.4 877.4,561.0 C882.4,554.6 887.6,547.8 892.2,540.9 C896.9,533.9 902.1,524.7 905.3,519.1 C908.5,513.5 909.4,511.4 911.6,507.1 C913.8,502.8 916.3,497.8 918.5,493.2 C920.7,488.6 922.9,483.9 924.8,479.3 C926.7,474.7 928.3,470.1 929.9,465.5 C931.5,460.9 933.1,456.2 934.5,451.6 C935.9,447.0 937.0,442.3 938.0,437.7 C939.0,433.1 940.0,428.9 940.7,423.9 C941.4,418.8 942.1,412.2 942.4,407.4 C942.7,402.6 942.6,399.1 942.4,394.9 C942.2,390.7 941.9,386.3 941.3,382.4 C940.6,378.5 939.6,375.0 938.5,371.3 C937.4,367.6 936.2,363.9 934.4,360.2 C932.5,356.5 930.0,352.4 927.4,349.1 C924.8,345.8 920.2,341.9 918.7,340.5 Z" fill="none" stroke="#2F528F" stroke-width="1.6" stroke-linejoin="miter"/></g>
</svg>
</body>
</html>
